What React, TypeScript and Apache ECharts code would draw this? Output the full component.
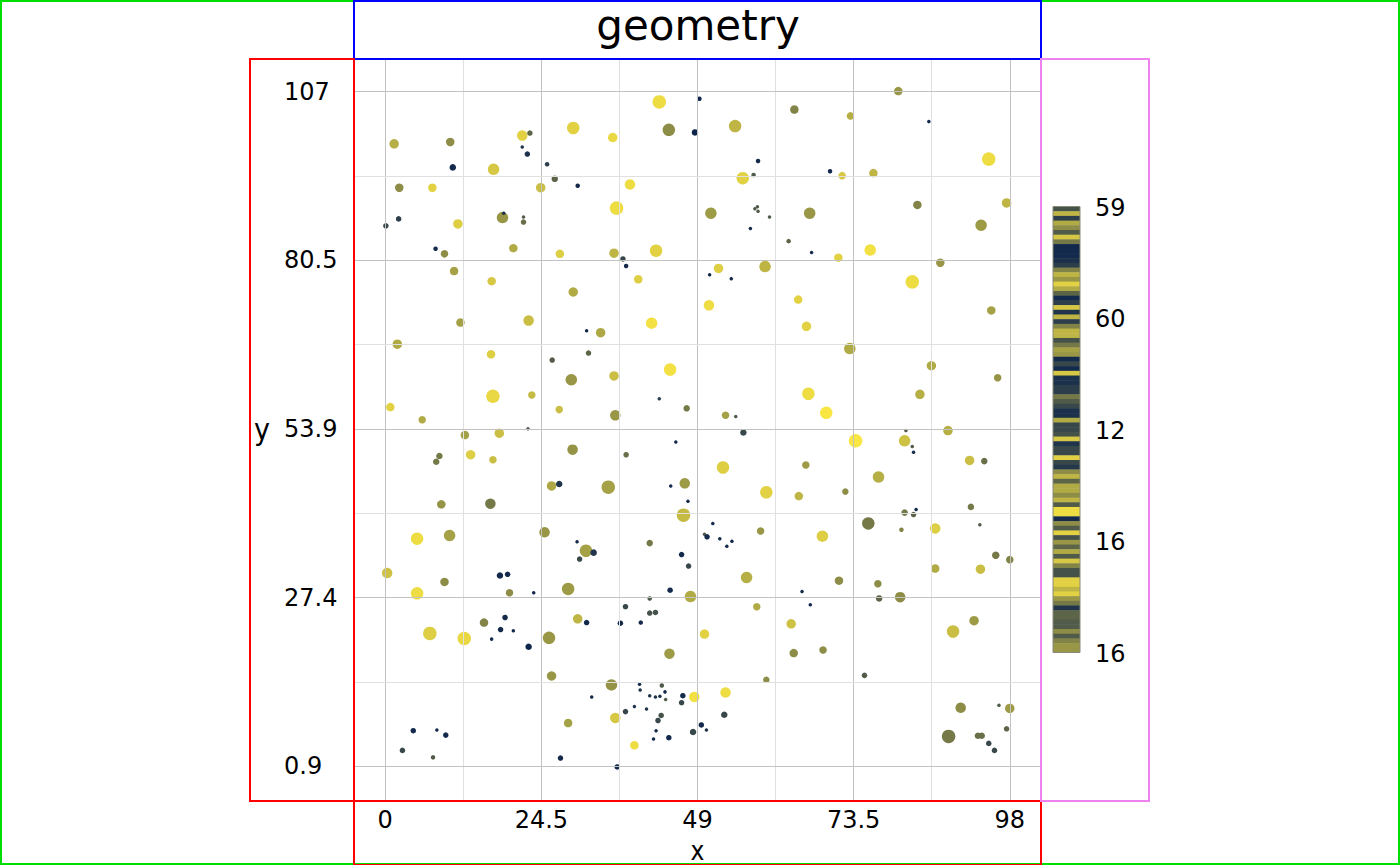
import { useEffect, useRef } from 'react';
import * as echarts from 'echarts';

const TITLE = 'geometry';
const X_NAME = 'x';
const Y_NAME = 'y';

const X_TICKS = [0, 24.5, 49, 73.5, 98];
const X_MINOR = [12.25, 36.75, 61.25, 85.75];
const Y_TICKS = [0.9, 27.425, 53.95, 80.475, 107];
const Y_TICK_LABELS = ['0.9', '27.4', '53.9', '80.5', '107'];
const Y_MINOR = [14.1625, 40.6875, 67.2125, 93.7375];

const CBAR_LABELS = ['59', '60', '12', '16', '16'];
const CBAR_VALUES = [
  0.25, 0.75, 0.15, 0.7, 0.55, 0.3, 0.85, 0.45, 0.05, 0.05, 0.05, 0.08, 0.15, 0.5, 0.75, 0.6,
  0.9, 0.7, 0.35, 0.05, 0.15, 0.85, 0.1, 0.75, 0.15, 0.5, 0.75, 0.75, 0.25, 0.45, 0.65, 0.6,
  0.05, 0.2, 0.05, 0.85, 0.08, 0.08, 0.15, 0.15, 0.45, 0.3, 0.2, 0.08, 0.08, 0.7, 0.2, 0.2,
  0.25, 0.85, 0.1, 0.2, 0.2, 0.9, 0.2, 0.12, 0.55, 0.75, 0.35, 0.7, 0.7, 0.55, 0.75, 0.3,
  0.95, 0.95, 0.05, 0.55, 0.3, 0.9, 0.25, 0.6, 0.35, 0.7, 0.3, 0.85, 0.5, 0.25, 0.25, 0.9,
  0.9, 0.75, 0.9, 0.6, 0.45, 0.1, 0.35, 0.35, 0.3, 0.3, 0.55, 0.3, 0.5, 0.6, 0.6,
];

const X_VALUES = [
  43.0, 49.3, 44.5, 48.6, 1.4, 10.2, 21.5, 22.7, 21.5, 22.3,
  29.5, 35.7, 10.6, 17.0, 25.4, 26.6, 30.2, 38.4, 2.2, 7.4,
  24.4, 36.3, 0.1, 2.1, 11.4, 18.4, 18.6, 21.7, 21.7, 7.9,
  9.3, 20.1, 27.4, 35.9, 37.3, 37.8, 42.5, 10.8, 16.7, 29.5,
  39.7, 64.2, 80.5, 73.0, 85.3, 54.9, 58.5, 57.8, 56.1, 69.8,
  71.7, 76.6, 94.7, 51.1, 58.0, 58.4, 58.5, 60.3, 66.6, 83.5,
  97.5, 57.3, 63.3, 66.9, 71.1, 76.1, 93.5, 87.1, 52.3, 50.9,
  54.3, 59.6, 82.7, 50.8, 64.8, 11.8, 22.5, 31.6, 33.8, 41.8,
  1.9, 16.6, 26.2, 31.9, 29.2, 35.9, 44.7, 0.8, 5.8, 16.9,
  23.0, 27.3, 36.1, 43.0, 47.3, 22.4, 12.5, 17.9, 8.5, 8.0,
  13.4, 16.9, 29.4, 37.8, 45.6, 26.1, 27.3, 35.0, 44.8, 47.0,
  47.5, 8.8, 16.5, 46.8, 5.0, 10.1, 25.0, 30.1, 31.5, 41.5,
  95.1, 66.1, 72.9, 85.7, 96.1, 66.4, 69.2, 83.9, 53.4, 55.0,
  56.2, 73.8, 81.5, 81.7, 82.7, 82.9, 88.3, 53.0, 66.0, 91.7,
  94.0, 59.8, 64.9, 72.2, 77.4, 75.8, 81.5, 82.9, 83.3, 91.9,
  81.0, 86.3, 93.3, 51.4, 50.1, 50.5, 52.5, 54.4, 53.6, 58.9,
  68.6, 32.7, 30.5, 46.5, 47.6, 0.3, 9.3, 18.0, 19.2, 19.5,
  23.3, 5.0, 28.7, 47.9, 44.7, 41.5, 37.7, 41.5, 42.4, 40.1,
  36.9, 31.6, 30.2, 18.8, 15.5, 18.1, 20.1, 16.7, 22.5, 25.7,
  7.0, 12.4, 50.1, 44.6, 26.1, 35.5, 39.9, 40.0, 43.4, 43.9,
  41.5, 42.4, 43.1, 44.0, 46.7, 46.5, 48.5, 32.4, 37.7, 39.1,
  41.0, 43.3, 42.8, 42.5, 42.1, 44.5, 48.3, 49.6, 50.4, 53.2,
  53.4, 28.7, 36.1, 39.1, 27.5, 36.4, 4.4, 8.1, 9.5, 2.7,
  7.5, 95.8, 98.0, 86.3, 93.4, 56.7, 71.2, 77.3, 77.5, 80.8,
  65.4, 66.7, 58.3, 63.7, 92.4, 89.1, 64.1, 68.7, 59.8, 75.2,
  90.3, 96.3, 98.0, 97.5, 88.4, 93.0, 93.6, 94.7, 95.6,
];

const Y_VALUES = [
  105.4, 105.9, 101.0, 100.6, 98.8, 99.1, 100.1, 100.5, 98.3, 97.2,
  101.3, 99.8, 95.1, 94.8, 95.6, 93.3, 92.2, 92.4, 91.9, 91.9,
  91.9, 88.7, 85.9, 87.0, 86.2, 87.2, 87.9, 87.3, 86.5, 82.3,
  81.5, 82.4, 81.5, 81.6, 80.7, 79.6, 82.0, 78.8, 77.2, 75.5,
  77.5, 104.2, 107.1, 103.2, 102.3, 101.6, 96.1, 93.9, 93.4, 94.5,
  93.8, 94.2, 96.4, 87.9, 88.6, 88.9, 88.2, 87.3, 87.9, 89.2,
  89.5, 85.5, 83.5, 81.7, 80.9, 82.1, 86.0, 80.1, 79.2, 78.2,
  77.6, 79.5, 77.1, 73.4, 74.3, 70.7, 71.0, 69.4, 69.1, 70.6,
  67.3, 65.7, 64.8, 65.9, 61.7, 62.3, 63.3, 57.4, 55.4, 59.1,
  59.3, 57.0, 56.1, 58.7, 57.2, 54.0, 53.0, 53.3, 49.7, 48.8,
  49.9, 49.1, 50.7, 49.9, 51.9, 45.0, 45.3, 44.8, 45.0, 45.4,
  42.6, 42.1, 42.2, 40.4, 36.7, 37.2, 37.7, 36.2, 34.8, 36.0,
  72.6, 70.1, 66.6, 63.9, 62.0, 59.5, 56.5, 59.4, 56.1, 55.9,
  53.4, 52.1, 52.1, 53.7, 51.2, 50.3, 53.7, 47.9, 48.3, 49.0,
  48.9, 44.0, 43.4, 44.1, 46.4, 39.1, 40.8, 40.5, 41.3, 41.7,
  38.1, 38.3, 38.9, 39.1, 37.4, 37.0, 36.7, 36.3, 35.5, 37.9,
  37.1, 34.5, 33.5, 34.2, 32.4, 31.3, 29.9, 30.9, 31.1, 28.2,
  28.2, 28.1, 28.8, 27.6, 28.6, 27.3, 26.0, 25.0, 25.1, 23.5,
  23.4, 23.5, 24.1, 24.3, 23.5, 22.4, 22.2, 20.9, 19.7, 21.1,
  21.8, 21.0, 21.7, 18.6, 15.1, 13.7, 13.8, 12.9, 13.6, 12.6,
  12.0, 11.8, 11.9, 11.4, 12.0, 10.9, 11.8, 11.8, 9.5, 10.3,
  9.9, 8.9, 8.1, 6.5, 5.2, 5.4, 6.3, 7.4, 6.6, 9.0,
  12.5, 7.7, 8.5, 4.2, 2.2, 0.8, 6.5, 6.6, 5.8, 3.4,
  2.3, 34.1, 33.4, 32.0, 31.9, 30.6, 30.1, 29.6, 27.3, 27.5,
  28.4, 26.3, 26.0, 23.3, 23.8, 22.1, 18.7, 19.2, 14.5, 15.2,
  10.1, 10.5, 10.0, 6.8, 5.6, 5.7, 5.7, 4.5, 3.4,
];

const SIZE_VALUES = [
  13, 4, 12, 6, 9, 8, 10, 5, 3, 5,
  12, 9, 6, 11, 4, 6, 4, 10, 8, 8,
  9, 13, 5, 5, 9, 11, 3, 3, 5, 4,
  7, 8, 8, 9, 5, 4, 12, 8, 8, 9,
  8, 8, 8, 7, 3, 12, 4, 4, 12, 4,
  7, 8, 13, 11, 3, 3, 3, 3, 11, 8,
  9, 3, 4, 3, 8, 11, 11, 8, 9, 3,
  3, 11, 13, 10, 8, 8, 10, 3, 9, 11,
  9, 8, 5, 5, 11, 9, 12, 8, 7, 13,
  7, 7, 10, 3, 6, 3, 8, 9, 6, 6,
  9, 7, 10, 5, 3, 9, 6, 13, 3, 10,
  3, 8, 10, 13, 12, 11, 10, 3, 12, 6,
  8, 9, 11, 9, 7, 12, 12, 9, 7, 3,
  6, 13, 11, 3, 3, 3, 9, 12, 7, 9,
  6, 12, 8, 6, 11, 12, 6, 5, 3, 6,
  4, 10, 3, 3, 3, 5, 3, 3, 3, 7,
  11, 6, 5, 5, 5, 10, 8, 6, 5, 7,
  3, 12, 12, 11, 5, 4, 5, 5, 5, 4,
  5, 5, 9, 5, 8, 5, 3, 3, 6, 12,
  13, 13, 9, 10, 9, 11, 3, 3, 4, 3,
  3, 3, 3, 3, 5, 5, 10, 3, 5, 3,
  3, 5, 5, 3, 3, 5, 6, 5, 3, 6,
  10, 8, 10, 8, 5, 5, 5, 3, 5, 5,
  4, 7, 7, 8, 9, 11, 8, 7, 6, 10,
  3, 3, 7, 9, 9, 12, 8, 7, 6, 5,
  10, 3, 9, 5, 13, 6, 6, 5, 5,
];

const COLOR_VALUES = [
  0.95, 0.03, 0.55, 0.03, 0.72, 0.55, 0.9, 0.35, 0.1, 0.08,
  0.9, 0.93, 0.05, 0.85, 0.15, 0.35, 0.05, 0.95, 0.55, 0.9,
  0.8, 0.95, 0.2, 0.15, 0.88, 0.6, 0.1, 0.3, 0.4, 0.05,
  0.55, 0.7, 0.88, 0.75, 0.2, 0.05, 0.9, 0.65, 0.85, 0.7,
  0.88, 0.5, 0.6, 0.72, 0.05, 0.75, 0.05, 0.3, 0.9, 0.05,
  0.85, 0.75, 0.95, 0.62, 0.3, 0.3, 0.3, 0.3, 0.6, 0.5,
  0.75, 0.05, 0.35, 0.05, 0.9, 0.97, 0.62, 0.6, 0.88, 0.05,
  0.05, 0.75, 0.95, 0.95, 0.9, 0.65, 0.8, 0.05, 0.68, 0.97,
  0.7, 0.88, 0.3, 0.35, 0.6, 0.8, 0.97, 0.9, 0.7, 0.93,
  0.78, 0.8, 0.6, 0.15, 0.45, 0.3, 0.65, 0.8, 0.45, 0.45,
  0.88, 0.8, 0.58, 0.4, 0.05, 0.68, 0.1, 0.65, 0.05, 0.62,
  0.05, 0.58, 0.45, 0.78, 0.95, 0.65, 0.6, 0.05, 0.65, 0.45,
  0.65, 0.9, 0.7, 0.7, 0.58, 0.95, 1.0, 0.72, 0.65, 0.3,
  0.2, 1.0, 0.82, 0.3, 0.3, 0.05, 0.72, 0.88, 0.62, 0.8,
  0.4, 0.9, 0.75, 0.55, 0.72, 0.45, 0.45, 0.35, 0.05, 0.45,
  0.5, 0.88, 0.3, 0.05, 0.3, 0.05, 0.05, 0.05, 0.05, 0.6,
  0.88, 0.1, 0.2, 0.05, 0.2, 0.82, 0.55, 0.05, 0.05, 0.55,
  0.05, 0.95, 0.62, 0.7, 0.05, 0.3, 0.2, 0.25, 0.25, 0.05,
  0.05, 0.05, 0.75, 0.05, 0.5, 0.05, 0.05, 0.05, 0.03, 0.6,
  0.88, 0.93, 0.9, 0.62, 0.6, 0.58, 0.05, 0.1, 0.3, 0.05,
  0.1, 0.1, 0.1, 0.3, 0.05, 0.2, 0.97, 0.05, 0.2, 0.1,
  0.1, 0.25, 0.2, 0.05, 0.05, 0.05, 0.2, 0.05, 0.1, 0.2,
  0.95, 0.65, 0.85, 0.95, 0.05, 0.05, 0.05, 0.05, 0.05, 0.2,
  0.3, 0.45, 0.5, 0.7, 0.8, 0.72, 0.55, 0.55, 0.35, 0.55,
  0.05, 0.05, 0.7, 0.82, 0.62, 0.8, 0.55, 0.55, 0.55, 0.3,
  0.55, 0.3, 0.62, 0.35, 0.45, 0.4, 0.4, 0.2, 0.2,
];

const LOW_COLOR = [8, 32, 76];
const HIGH_COLOR = [250, 230, 66];
const FONT = "'DejaVu Sans', sans-serif";
const NAME_FONT = "'DejaVu Sans Condensed', 'DejaVu Sans', sans-serif";

function toHex(c: number[]) {
  return '#' + c.map((v) => Math.round(v).toString(16).padStart(2, '0')).join('');
}
function mix(t: number) {
  return toHex(LOW_COLOR.map((a, i) => a + (HIGH_COLOR[i] - a) * t));
}

export default function App() {
  const ref = useRef<HTMLDivElement>(null);
  useEffect(() => {
    const chart = echarts.init(ref.current!, null, { renderer: 'svg' });
    const data = X_VALUES.map((x, i) => [x, Y_VALUES[i], SIZE_VALUES[i], COLOR_VALUES[i]]);

    const GRID = { left: 354, top: 58, width: 687, height: 742, outerBoundsMode: 'none', containLabel: false };
    const CB = { x: 1053, y: 206.5, w: 27, h: 446 };
    const stripeH = CB.h / CBAR_VALUES.length;

    const stripes = CBAR_VALUES.map((t, i) => ({
      type: 'rect',
      shape: { x: CB.x, y: CB.y + i * stripeH, width: CB.w, height: stripeH + 0.5 },
      style: { fill: mix(t) },
      silent: true,
    }));

    const cbLabels = CBAR_LABELS.map((s, i) => ({
      type: 'text',
      x: 1095,
      y: CB.y + (i * CB.h) / (CBAR_LABELS.length - 1) + 1,
      style: {
        text: s,
        fontSize: 24,
        fontFamily: FONT,
        fill: '#000',
        textAlign: 'left',
        textVerticalAlign: 'middle',
      },
    }));

    const box = (x: number, y: number, w: number, h: number, stroke: string) => ({
      type: 'rect',
      shape: { x, y, width: w, height: h },
      style: { fill: 'none', stroke, lineWidth: 2 },
      silent: true,
      z: 100,
    });

    const major = '#c2c2c2';
    const minor = '#e0e0e0';
    const gridLines = [
      ...X_TICKS.map((v) => ({ xAxis: v, lineStyle: { color: major, width: 1, type: 'solid' } })),
      ...X_MINOR.map((v) => ({ xAxis: v, lineStyle: { color: minor, width: 1, type: 'solid' } })),
      ...Y_TICKS.map((v) => ({ yAxis: v, lineStyle: { color: major, width: 1, type: 'solid' } })),
      ...Y_MINOR.map((v) => ({ yAxis: v, lineStyle: { color: minor, width: 1, type: 'solid' } })),
    ];

    const yLabel = (v: number) => {
      let best = 0;
      Y_TICKS.forEach((t, i) => {
        if (Math.abs(t - v) < Math.abs(Y_TICKS[best] - v)) best = i;
      });
      return Y_TICK_LABELS[best];
    };

    chart.setOption({
      animation: false,
      backgroundColor: '#fff',
      title: {
        text: TITLE,
        left: 698,
        top: 4,
        textAlign: 'center',
        padding: 0,
        textStyle: { fontSize: 42, fontWeight: 'normal', color: '#000', fontFamily: FONT },
      },
      grid: GRID,
      xAxis: {
        type: 'value',
        min: -4.9,
        max: 102.9,
        name: X_NAME,
        nameLocation: 'middle',
        nameGap: 30,
        nameTextStyle: { fontSize: 26, lineHeight: 28, color: '#000', fontFamily: NAME_FONT },
        axisLine: { show: false },
        axisTick: { show: false },
        splitLine: { show: false },
        axisLabel: {
          customValues: X_TICKS,
          fontSize: 24,
          color: '#000',
          fontFamily: FONT,
          margin: 8,
          formatter: (v: number) => String(v),
        },
      },
      yAxis: {
        type: 'value',
        min: -4.405,
        max: 112.305,
        name: Y_NAME,
        nameLocation: 'middle',
        nameRotate: 0,
        nameGap: 84,
        nameTextStyle: { fontSize: 30, color: '#000', fontFamily: NAME_FONT },
        axisLine: { show: false },
        axisTick: { show: false },
        splitLine: { show: false },
        axisLabel: {
          customValues: Y_TICKS,
          fontSize: 24,
          color: '#000',
          fontFamily: FONT,
          align: 'left',
          margin: 70,
          formatter: (v: number) => yLabel(v),
        },
      },
      visualMap: {
        show: false,
        type: 'continuous',
        seriesIndex: 1,
        dimension: 3,
        min: 0,
        max: 1,
        inRange: { color: [toHex(LOW_COLOR), toHex(HIGH_COLOR)] },
      },
      series: [
        {
          type: 'scatter',
          z: 1,
          silent: true,
          symbolSize: 0,
          data: [[0, 0.9]],
          itemStyle: { opacity: 0 },
          markLine: {
            silent: true,
            symbol: ['none', 'none'],
            label: { show: false },
            animation: false,
            data: gridLines,
          },
        },
        {
          type: 'scatter',
          z: 3,
          data,
          symbolSize: (v: number[]) => v[2] + 0.5,
          itemStyle: { opacity: 1 },
        },
      ],
      graphic: [
        ...stripes,
        {
          type: 'rect',
          shape: { x: CB.x, y: CB.y, width: CB.w, height: CB.h },
          style: { fill: 'none', stroke: '#8a8a7a', lineWidth: 1 },
          silent: true,
        },
        ...cbLabels,
        box(1, 1, 1398, 863, '#00dd00'),
        box(354, 1, 687, 58, '#0000ff'),
        box(250, 59, 104, 742, '#ff0000'),
        box(354, 801, 687, 64, '#ff0000'),
        box(1041, 59, 108, 742, '#ee82ee'),
      ],
    });
    return () => chart.dispose();
  }, []);
  return (
    <div
      ref={ref}
      style={{ position: 'absolute', left: 0, top: 0, width: 1400, height: 865, background: '#fff' }}
    />
  );
}
